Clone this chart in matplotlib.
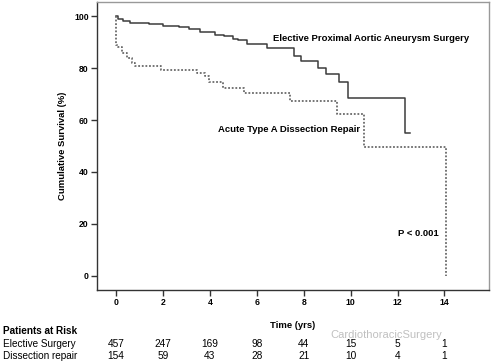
import matplotlib
matplotlib.use('Agg')
import matplotlib.pyplot as plt
import matplotlib.transforms as mtransforms

plt.rcParams['font.family'] = ['Liberation Sans', 'DejaVu Sans']

# Kaplan-Meier steps (time in years, survival in %)
elective_t = [0, 0.07, 0.3, 0.6, 1.4, 2.0, 2.7, 3.1, 3.6, 4.2, 4.6, 5.0, 5.2, 5.6,
              6.45, 7.6, 7.9, 8.6, 8.95, 9.5, 9.9, 12.3, 12.55]
elective_s = [100, 99.0, 98.2, 97.3, 96.8, 96.3, 95.7, 95.0, 93.8, 92.8, 92.2, 91.2, 90.6, 89.1,
              87.6, 84.5, 82.8, 80.2, 77.8, 74.7, 68.3, 54.9, 54.9]

dissection_t = [0, 0.02, 0.1, 0.24, 0.46, 0.67, 0.8, 1.92, 3.45, 3.8, 3.95, 4.55,
                5.45, 7.4, 9.4, 10.55, 14.05, 14.05]
dissection_s = [100, 89.0, 88.0, 85.7, 83.7, 81.8, 80.6, 79.3, 77.9, 77.0, 74.7, 72.2,
                70.3, 67.5, 62.5, 49.6, 49.6, 0]

risk_times = [0, 2, 4, 6, 8, 10, 12, 14]
risk_elective = ['457', '247', '169', '98', '44', '15', '5', '1']
risk_dissection = ['154', '59', '43', '28', '21', '10', '4', '1']

fig = plt.figure(figsize=(4.91, 3.64), dpi=100)
ax = fig.add_axes([0.1976, 0.2033, 0.7984, 0.7912])

ax.step(elective_t, elective_s, where='post', color='#3c3c3c', lw=1.1)
ax.step(dissection_t, dissection_s, where='post', color='#6a6a6a', lw=1.3,
        linestyle=(0, (1, 1)))

ax.set_xlim(-0.81, 15.9)
ax.set_ylim(-5.4, 105.4)
ax.set_xticks(risk_times)
ax.set_yticks([0, 20, 40, 60, 80, 100])
ax.tick_params(direction='out', length=4, width=1, labelsize=6.2, pad=2, color='#333333')
for lab in ax.get_xticklabels() + ax.get_yticklabels():
    lab.set_fontweight('bold')

for side in ['left', 'bottom']:
    ax.spines[side].set_color('#333333')
    ax.spines[side].set_linewidth(1.0)
for side in ['top', 'right']:
    ax.spines[side].set_color('#999999')
    ax.spines[side].set_linewidth(1.0)

ax.set_ylabel('Cumulative Survival (%)', fontsize=6.8, fontweight='bold', labelpad=5)
ax.set_xlabel('Time (yrs)', fontsize=6.8, fontweight='bold', labelpad=10)

ax.text(6.7, 91.5, 'Elective Proximal Aortic Aneurysm Surgery', fontsize=6.8,
        fontweight='bold', va='center')
ax.text(4.36, 56.2, 'Acute Type A Dissection Repair', fontsize=6.8,
        fontweight='bold', va='center')
ax.text(12.0, 16.2, 'P < 0.001', fontsize=6.8, fontweight='bold', va='center')

# patients at risk table below the plot
fig.text(0.006, 0.0907, 'Patients at Risk', fontsize=7.2, fontweight='bold', va='center')
fig.text(0.006, 0.0549, 'Elective Surgery', fontsize=7.2, va='center')
fig.text(0.006, 0.022, 'Dissection repair', fontsize=7.2, va='center')
trans = mtransforms.blended_transform_factory(ax.transData, fig.transFigure)
for t, a, b in zip(risk_times, risk_elective, risk_dissection):
    fig.text(t, 0.0549, a, fontsize=7.3, ha='center', va='center', transform=trans)
    fig.text(t, 0.022, b, fontsize=7.3, ha='center', va='center', transform=trans)

# watermark, nudged up a little so it does not sit on the numbers
fig.text(0.672, 0.081, 'CardiothoracicSurgery', fontsize=8, color='#b0b0b0',
         alpha=0.8, va='center')

fig.savefig('out.png', dpi=100)
